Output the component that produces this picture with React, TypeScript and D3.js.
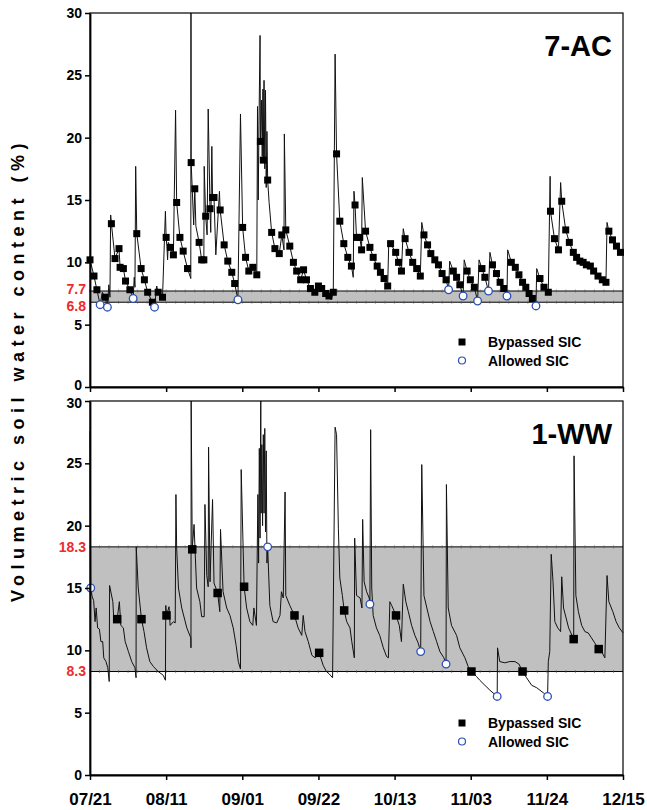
import React, { useEffect, useRef } from 'react';
import * as d3 from 'd3';

// days since 07/21
const dateTicks = [0, 21, 42, 63, 84, 105, 126, 147];
const dateLabels = ['07/21', '08/11', '09/01', '09/22', '10/13', '11/03', '11/24', '12/15'];
const yTicks = [0, 5, 10, 15, 20, 25, 30];

// [day, VWC %, marker] marker: 0 none, 1 bypassed SIC, 2 allowed SIC
const acSeries: [number, number, number][] = [
  [0, 10.2, 1], [1.1, 8.9, 1], [1.9, 7.8, 1], [2.8, 6.6, 2], [3.4, 7.6, 0], [4.2, 7.2, 1], [4.8, 6.4, 2],
  [5.2, 8.2, 0], [5.5, 7.2, 0], [5.7, 13.8, 0], [5.9, 13.1, 1], [6.9, 10.3, 1], [8.0, 11.1, 1], [8.3, 9.6, 1],
  [9.2, 9.5, 1], [9.8, 8.5, 1], [11.0, 7.8, 1], [11.9, 7.1, 2], [12.2, 8.8, 0], [12.4, 8.0, 0], [12.6, 17.7, 0],
  [12.9, 12.3, 1], [14.1, 9.5, 1], [15.0, 8.6, 1], [15.9, 7.6, 1], [17.2, 6.8, 1], [17.8, 6.4, 2], [18.4, 8.1, 0],
  [18.8, 7.6, 1], [20.0, 7.2, 1], [20.8, 14.1, 0], [21.0, 12.0, 1], [21.2, 11.3, 0], [21.4, 10.2, 0],
  [21.6, 11.6, 0], [22.2, 11.2, 1], [23.0, 10.6, 1], [23.6, 22.2, 0], [23.9, 14.8, 1], [24.8, 12.0, 1],
  [25.7, 10.9, 1], [26.9, 9.5, 1], [27.8, 8.7, 0], [27.85, 30, 0], [27.9, 18.0, 1], [28.6, 13.0, 0],
  [28.9, 15.9, 1], [29.2, 12.9, 0], [30.1, 11.6, 1], [30.8, 10.2, 1], [31.4, 10.2, 1], [31.5, 17.7, 0],
  [31.9, 13.7, 1], [32.3, 12.2, 0], [32.6, 22.3, 0], [33.1, 14.3, 1], [33.3, 12.4, 0], [33.6, 19.3, 0],
  [33.8, 15.2, 1], [34.2, 15.2, 1], [34.7, 10.6, 0], [35.7, 15.7, 0], [35.9, 14.2, 1], [37.0, 11.4, 1],
  [38.0, 10.1, 1], [39.1, 9.2, 1], [39.9, 8.3, 1], [40.8, 7.0, 2], [41.5, 21.9, 0], [42.1, 12.8, 1],
  [42.9, 10.4, 1], [43.8, 9.3, 1], [44.9, 9.6, 1], [46.0, 9.0, 1], [46.2, 22.5, 0], [46.4, 15.0, 0],
  [46.6, 21.0, 0], [46.9, 28.2, 0], [47.0, 19.7, 1], [47.3, 23.0, 0], [47.5, 18.5, 0], [47.7, 23.9, 0],
  [47.8, 18.2, 1], [48.0, 24.6, 0], [48.2, 17.5, 0], [48.4, 23.8, 0], [48.6, 16.0, 0], [48.8, 20.5, 0],
  [49.0, 16.6, 1], [49.4, 14.8, 0], [50.1, 12.4, 1], [51.0, 11.1, 1], [52.2, 10.7, 1], [52.9, 12.2, 1],
  [53.5, 11.0, 0], [53.6, 20.3, 0], [54.0, 12.6, 1], [55.1, 11.3, 1], [56.1, 10.0, 1], [57.0, 9.3, 1],
  [58.1, 8.6, 1], [58.9, 9.4, 1], [59.7, 8.6, 1], [60.8, 7.9, 1], [62.0, 7.6, 1], [63.0, 8.1, 1],
  [63.9, 7.9, 1], [65.0, 7.5, 1], [65.9, 7.3, 1], [66.5, 7.0, 0], [67.1, 7.6, 1], [67.6, 26.7, 0],
  [68.0, 18.7, 1], [68.9, 13.3, 1], [70.0, 11.5, 1], [71.1, 10.4, 1], [72.1, 9.7, 1], [72.6, 8.8, 0],
  [72.8, 15.7, 0], [73.1, 14.6, 1], [73.5, 12.0, 1], [74.4, 12.0, 1], [74.9, 11.0, 1], [75.1, 16.8, 0],
  [76.0, 12.5, 1], [77.2, 11.2, 1], [78.1, 10.4, 1], [79.2, 9.7, 1], [80.1, 9.2, 1], [81.1, 8.7, 1],
  [82.1, 8.1, 1], [82.4, 11.6, 0], [82.9, 11.5, 1], [84.3, 10.8, 1], [85.1, 10.0, 1], [85.9, 9.3, 1],
  [86.4, 12.7, 0], [86.9, 11.9, 1], [88.0, 10.8, 1], [89.0, 10.0, 1], [90.1, 9.5, 1], [91.1, 8.9, 1],
  [91.5, 13.2, 0], [92.1, 12.2, 1], [93.1, 11.4, 1], [94.0, 10.7, 1], [95.1, 10.2, 1], [96.1, 9.8, 1],
  [97.1, 9.1, 1], [98.2, 8.6, 1], [98.9, 7.8, 2], [99.2, 10.1, 0], [100.2, 9.3, 1], [101.1, 8.8, 1],
  [102.0, 8.2, 1], [102.9, 7.3, 2], [103.2, 10.2, 0], [104.0, 9.3, 1], [104.9, 8.6, 1], [106.0, 8.0, 1],
  [106.9, 6.9, 2], [107.3, 10.2, 0], [108.1, 9.5, 1], [108.9, 8.8, 1], [109.9, 7.7, 2], [110.3, 10.8, 0],
  [111.0, 9.8, 1], [112.1, 9.1, 1], [113.1, 8.4, 1], [114.1, 7.9, 1], [115.0, 7.3, 2], [115.2, 11.0, 0],
  [116.2, 10.0, 1], [117.3, 9.6, 1], [118.3, 9.0, 1], [119.3, 8.4, 1], [120.2, 8.0, 1], [121.1, 7.5, 1],
  [122.0, 7.1, 1], [123.0, 6.5, 2], [123.2, 9.5, 0], [124.1, 8.7, 1], [125.2, 8.0, 1], [126.4, 7.6, 1],
  [126.9, 16.9, 0], [127.0, 14.1, 1], [128.1, 11.9, 1], [129.2, 11.0, 1], [129.8, 16.4, 0], [130.1, 14.9, 1],
  [131.2, 12.6, 1], [132.2, 11.6, 1], [133.3, 10.8, 1], [134.2, 10.4, 1], [135.1, 10.1, 1], [136.0, 10.0, 1],
  [136.9, 9.8, 1], [138.0, 9.7, 1], [138.9, 9.3, 1], [140.1, 8.9, 1], [141.3, 8.6, 1], [142.3, 8.4, 1],
  [142.6, 13.2, 0], [143.1, 12.5, 1], [144.1, 11.8, 1], [145.2, 11.3, 1], [146.3, 10.8, 1],
];

const wwSeries: [number, number, number][] = [
  [0, 27.6, 0], [0.2, 15.0, 2], [0.6, 14.3, 0], [1.0, 14.0, 0], [1.4, 12.3, 0], [1.7, 13.4, 0], [2.1, 11.8, 0],
  [2.6, 11.7, 0], [3.0, 10.7, 0], [3.5, 10.7, 0], [3.8, 9.4, 0], [4.4, 9.1, 0], [4.9, 8.6, 0], [5.3, 7.5, 0],
  [5.4, 15.2, 0], [6.3, 13.9, 0], [6.6, 12.3, 0], [7.5, 12.5, 1], [8.1, 13.9, 0], [8.5, 12.0, 0],
  [9.2, 11.8, 0], [9.7, 10.7, 0], [10.6, 9.9, 0], [11.5, 9.1, 0], [12.4, 8.6, 0], [12.7, 7.8, 0],
  [12.75, 18.3, 0], [13.3, 15.0, 0], [14.2, 12.5, 1], [14.9, 11.5, 0], [15.6, 10.2, 0], [16.5, 9.1, 0],
  [17.5, 8.7, 0], [18.8, 8.3, 0], [20.2, 8.0, 0], [20.8, 7.6, 0], [20.9, 13.6, 0], [21.1, 12.8, 1],
  [21.8, 13.5, 0], [22.1, 12.0, 0], [23.0, 12.3, 0], [23.5, 12.2, 0], [23.7, 22.5, 0], [23.9, 18.2, 0],
  [24.4, 15.0, 0], [25.3, 13.4, 0], [26.7, 11.8, 0], [27.8, 11.0, 0], [27.85, 10.2, 0], [27.9, 30, 0],
  [28.2, 18.1, 1], [28.7, 20.1, 0], [29.4, 15.0, 0], [30.3, 13.9, 0], [30.8, 12.7, 0], [31.5, 12.7, 0],
  [31.7, 21.7, 0], [32.2, 16.0, 0], [32.6, 15.1, 0], [32.7, 26.3, 0], [33.1, 15.5, 0], [33.8, 22.1, 0],
  [34.2, 15.4, 0], [35.2, 14.6, 1], [35.8, 13.1, 0], [36.0, 19.7, 0], [36.7, 14.7, 0], [37.7, 13.4, 0],
  [38.6, 12.8, 0], [39.5, 11.8, 0], [40.3, 10.4, 0], [40.9, 9.1, 0], [41.5, 8.5, 0], [41.7, 24.5, 0],
  [42.5, 15.1, 1], [43.2, 13.4, 0], [44.1, 12.3, 0], [44.9, 12.0, 0], [45.2, 13.4, 0], [45.9, 12.0, 0],
  [46.3, 22.5, 0], [46.5, 17.0, 0], [46.7, 26.2, 0], [46.9, 19.0, 0], [47.1, 30, 0], [47.2, 21.0, 0],
  [47.4, 26.5, 0], [47.6, 20.0, 0], [47.8, 27.3, 0], [48.0, 21.0, 0], [48.2, 27.8, 0], [48.4, 19.5, 0],
  [48.6, 26.0, 0], [48.8, 17.0, 0], [49.0, 18.3, 2], [49.6, 13.6, 0], [50.5, 12.3, 0], [51.5, 12.2, 0],
  [52.4, 12.8, 0], [52.8, 14.7, 0], [53.3, 14.2, 0], [53.8, 22.7, 0], [54.0, 14.4, 0], [55.1, 13.6, 0],
  [56.4, 12.8, 1], [57.4, 11.8, 0], [58.4, 11.2, 0], [58.8, 12.8, 0], [59.3, 11.5, 0], [60.2, 10.7, 0],
  [61.2, 9.6, 0], [62.1, 9.4, 0], [63.2, 9.8, 1], [64.3, 8.8, 0], [65.2, 8.3, 0], [66.0, 8.1, 0],
  [66.9, 7.8, 0], [67.6, 27.9, 0], [68.0, 27.3, 0], [68.5, 19.8, 0], [68.9, 15.8, 0], [69.6, 14.4, 0],
  [70.1, 13.2, 1], [70.8, 12.3, 0], [71.7, 11.8, 0], [72.2, 10.7, 0], [72.9, 9.4, 0], [73.0, 19.0, 0],
  [73.5, 14.4, 0], [74.5, 14.2, 0], [75.0, 13.4, 0], [75.2, 20.5, 0], [75.6, 15.5, 0], [76.3, 14.7, 0],
  [77.0, 14.2, 0], [77.2, 13.7, 2], [77.4, 27.7, 0], [77.7, 15.0, 0], [78.1, 12.8, 0], [79.0, 11.8, 0],
  [79.9, 11.2, 0], [80.9, 10.2, 0], [81.8, 9.5, 0], [82.3, 9.4, 0], [82.7, 13.9, 0], [83.2, 13.6, 0],
  [84.4, 12.8, 1], [85.3, 12.0, 0], [85.9, 10.7, 0], [86.4, 15.3, 0], [87.1, 13.9, 0], [87.8, 13.1, 0],
  [88.7, 12.0, 0], [89.6, 11.2, 0], [90.5, 10.6, 0], [91.2, 9.9, 2], [91.5, 24.9, 0], [92.1, 14.4, 0],
  [92.9, 13.4, 0], [93.8, 12.3, 0], [94.7, 11.5, 0], [95.6, 10.7, 0], [96.5, 9.9, 0], [97.6, 9.4, 0],
  [98.2, 8.9, 2], [98.3, 23.3, 0], [98.8, 13.4, 0], [99.7, 12.0, 0], [101.1, 11.2, 0], [102.0, 10.2, 0],
  [103.4, 9.4, 0], [104.3, 8.7, 0], [105.2, 8.3, 1], [106.6, 7.9, 0], [107.5, 7.6, 0], [108.9, 7.2, 0],
  [110.3, 6.8, 0], [112.3, 6.3, 2], [112.4, 10.2, 0], [113.0, 9.1, 0], [114.4, 9.0, 0], [115.8, 9.1, 0],
  [117.2, 9.1, 0], [118.3, 8.9, 0], [119.3, 8.3, 1], [120.4, 7.8, 0], [121.8, 7.2, 0], [123.2, 7.0, 0],
  [125.0, 6.6, 0], [126.2, 6.3, 2], [126.4, 9.1, 0], [126.8, 9.9, 0], [127.2, 17.7, 0], [127.7, 15.5, 0],
  [128.2, 12.3, 0], [129.0, 11.8, 0], [129.8, 11.5, 0], [130.1, 15.9, 0], [130.6, 13.4, 0], [131.3, 12.6, 0],
  [132.0, 11.8, 0], [133.4, 10.9, 1], [133.5, 25.6, 0], [134.0, 14.4, 0], [134.7, 13.1, 0], [135.6, 12.0, 0],
  [136.5, 11.5, 0], [137.4, 11.4, 0], [138.3, 11.0, 0], [139.2, 10.6, 0], [140.3, 10.1, 1], [141.1, 9.9, 0],
  [142.0, 9.4, 0], [142.6, 16.0, 0], [143.1, 13.9, 0], [144.2, 13.1, 0], [145.1, 12.3, 0], [146.0, 11.8, 0],
  [147.0, 11.4, 0],
];

const acBand = [6.8, 7.7];
const wwBand = [8.3, 18.3];
const legendLabels = ['Bypassed SIC', 'Allowed SIC'];

const FONT = '"Liberation Sans", Arial, sans-serif';

function SoilWaterChart() {
  const svgRef = useRef<SVGSVGElement>(null);

  useEffect(() => {
    if (!svgRef.current) return;
    const svg = d3.select(svgRef.current);
    svg.selectAll('*').remove();

    const left = 90, right = 623, panelH = 374;
    const x = d3.scaleLinear().domain([0, 147]).range([left, right]);

    const panels = [
      { name: '7-AC', series: acSeries, band: acBand, top: 13, sq: 7, dates: false, legendY: 342 },
      { name: '1-WW', series: wwSeries, band: wwBand, top: 401, sq: 8.5, dates: true, legendY: 723 },
    ];

    panels.forEach((p, pi) => {
      const y = d3.scaleLinear().domain([0, 30]).range([p.top + panelH, p.top]);
      const g = svg.append('g');
      const narrow = y(p.band[0]) - y(p.band[1]) < 16;

      // threshold band
      g.append('rect')
        .attr('x', left).attr('width', right - left)
        .attr('y', y(p.band[1])).attr('height', y(p.band[0]) - y(p.band[1]))
        .attr('fill', '#c0c0c0');
      p.band.forEach((b, bi) => {
        g.append('line')
          .attr('x1', left).attr('x2', right).attr('y1', y(b)).attr('y2', y(b))
          .attr('stroke', '#000').attr('stroke-width', 1);
        g.append('g').selectAll('line')
          .data(d3.range(0, 147, 147 / 56))
          .join('line')
          .attr('x1', d => x(d)).attr('x2', d => x(d))
          .attr('y1', y(b) - 1.5).attr('y2', y(b) + 1.5)
          .attr('stroke', '#555').attr('stroke-width', 0.6);
        // labels of a narrow band are pushed apart
        const shift = narrow ? (bi === 0 ? 4 : -2) : 0;
        g.append('text')
          .attr('x', 86).attr('y', y(b) + shift).attr('dy', '0.35em')
          .attr('text-anchor', 'end')
          .attr('font-family', FONT).attr('font-weight', 'bold').attr('font-size', 14)
          .attr('fill', '#ee2b2b')
          .text(String(b));
      });

      // series line
      const line = d3.line<[number, number, number]>()
        .x(d => x(d[0]))
        .y(d => y(d[1]));
      g.append('path')
        .datum(p.series)
        .attr('fill', 'none')
        .attr('stroke', '#111')
        .attr('stroke-width', 1)
        .attr('stroke-linejoin', 'round')
        .attr('d', line);

      g.append('g').selectAll('rect')
        .data(p.series.filter(d => d[2] === 1))
        .join('rect')
        .attr('x', d => x(d[0]) - p.sq / 2)
        .attr('y', d => y(d[1]) - p.sq / 2)
        .attr('width', p.sq).attr('height', p.sq)
        .attr('fill', '#000');

      g.append('g').selectAll('circle')
        .data(p.series.filter(d => d[2] === 2))
        .join('circle')
        .attr('cx', d => x(d[0]))
        .attr('cy', d => y(d[1]))
        .attr('r', 3.8)
        .attr('fill', '#fff')
        .attr('stroke', '#2c50b4')
        .attr('stroke-width', 1.3);

      // frame
      g.append('rect')
        .attr('x', left).attr('y', p.top)
        .attr('width', right - left).attr('height', panelH)
        .attr('fill', 'none').attr('stroke', '#000').attr('stroke-width', 1.2);

      // axes
      const yAxis = g.append('g')
        .attr('transform', `translate(${left},0)`)
        .call(d3.axisLeft(y).tickValues(yTicks).tickSize(5).tickSizeOuter(0).tickPadding(3));
      yAxis.select('.domain').attr('stroke-width', 1.8);
      yAxis.selectAll('.tick line').attr('stroke-width', 1.5);
      yAxis.selectAll<SVGTextElement, number>('text')
        .attr('font-family', FONT).attr('font-weight', 'bold').attr('font-size', 14).attr('fill', '#000')
        .attr('dy', d => (pi === 0 && d === 0 ? '0.2em' : pi === 1 && d === 30 ? '0.45em' : '0.32em'));

      const xAxis = g.append('g')
        .attr('transform', `translate(0,${p.top + panelH})`)
        .call(d3.axisBottom(x).tickValues(dateTicks).tickSize(5).tickSizeOuter(0).tickPadding(13)
          .tickFormat((d, i) => (p.dates ? dateLabels[i] : '')));
      xAxis.select('.domain').attr('stroke-width', 1.8);
      xAxis.selectAll('.tick line').attr('stroke-width', 1.5);
      xAxis.selectAll('text')
        .attr('font-family', FONT).attr('font-weight', 'bold').attr('font-size', 17).attr('fill', '#000');

      // panel name
      g.append('text')
        .attr('x', 612).attr('y', p.top + 43)
        .attr('text-anchor', 'end')
        .attr('font-family', FONT).attr('font-weight', 'bold').attr('font-size', 29)
        .text(p.name);

      // legend
      const lg = g.append('g').attr('transform', `translate(462,${p.legendY})`);
      lg.append('rect').attr('x', -3.5).attr('y', -3.5).attr('width', 7).attr('height', 7).attr('fill', '#000');
      lg.append('circle').attr('cx', 0).attr('cy', 18.5).attr('r', 3.5)
        .attr('fill', '#fff').attr('stroke', '#2c50b4').attr('stroke-width', 1.2);
      lg.selectAll('text.lbl')
        .data(legendLabels)
        .join('text')
        .attr('class', 'lbl')
        .attr('x', 26).attr('y', (d, i) => i * 18.5)
        .attr('dy', '0.36em')
        .attr('font-family', FONT).attr('font-weight', 'bold').attr('font-size', 14)
        .text(d => d);
    });

    svg.append('text')
      .attr('transform', 'translate(24,370) rotate(-90)')
      .attr('text-anchor', 'middle')
      .attr('font-family', FONT).attr('font-weight', 'bold').attr('font-size', 18)
      .attr('letter-spacing', 5.5)
      .text('Volumetric  soil  water  content (%)');
  }, []);

  return (
    <svg ref={svgRef} width={647} height={810}
      style={{ position: 'absolute', left: 0, top: 0, background: '#fff' }} />
  );
}

export default function App() {
  return <SoilWaterChart />;
}
